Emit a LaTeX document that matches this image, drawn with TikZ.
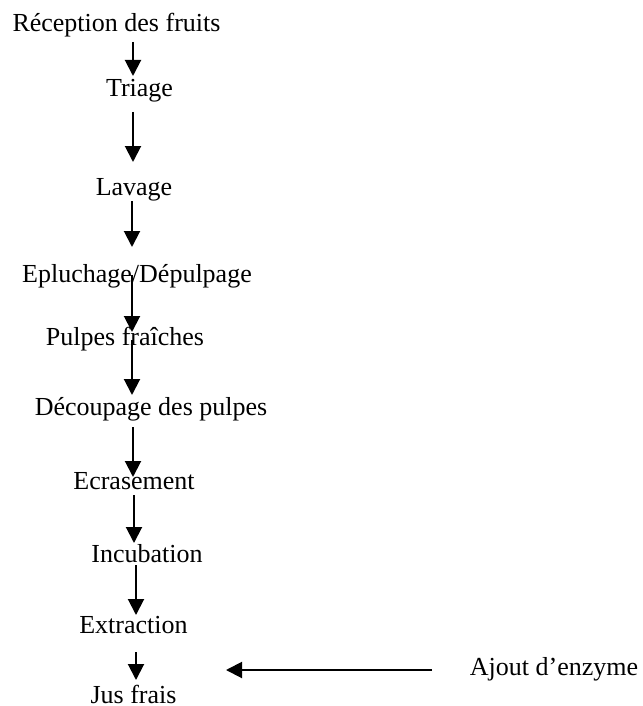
\documentclass[tikz,border=0pt]{standalone}
\usepackage{fontspec}
\setmainfont{Liberation Serif}
\usetikzlibrary{arrows.meta}
\begin{document}
\begin{tikzpicture}[x=0.5pt,y=-0.5pt,
  lbl/.style={anchor=base,inner sep=0pt,font=\fontsize{13}{15}\selectfont},
  arr/.style={line width=1pt,-{Triangle[width=8pt,length=8pt]}}]
\useasboundingbox (0,0) rectangle (642,706);
\node[lbl] (n1) at (116.5,32) {Réception des fruits};
\node[lbl] (n2) at (139.5,97) {Triage};
\node[lbl] (n3) at (134,195) {Lavage};
\node[lbl] (n4) at (137,282) {Epluchage/Dépulpage};
\node[lbl] (n5) at (125,345) {Pulpes fraîches};
\node[lbl] (n6) at (151,415) {Découpage des pulpes};
\node[lbl] (n7) at (134,489) {Ecrasement};
\node[lbl] (n8) at (147,562) {Incubation};
\node[lbl] (n9) at (133.5,633) {Extraction};
\node[lbl] (n10) at (133.5,703) {Jus frais};
\node[lbl] (ez) at (554,675) {Ajout d’enzyme};
% arrow end points
\coordinate (a1s) at (133,42);  \coordinate (a1e) at (133,76);
\coordinate (a2s) at (133,112); \coordinate (a2e) at (133,162);
\coordinate (a3s) at (132,201); \coordinate (a3e) at (132,247);
\coordinate (a4s) at (132,275); \coordinate (a4e) at (132,332);
\coordinate (a5s) at (132,340); \coordinate (a5e) at (132,395);
\coordinate (a6s) at (133,427); \coordinate (a6e) at (133,477);
\coordinate (a7s) at (134,495); \coordinate (a7e) at (134,543);
\coordinate (a8s) at (136,565); \coordinate (a8e) at (136,615);
\coordinate (a9s) at (136,652); \coordinate (a9e) at (136,680);
\coordinate (hs) at (432,670);  \coordinate (he) at (226,670);
\draw[arr] (a1s) -- (a1e);
\draw[arr] (a2s) -- (a2e);
\draw[arr] (a3s) -- (a3e);
\draw[arr] (a4s) -- (a4e);
\draw[arr] (a5s) -- (a5e);
\draw[arr] (a6s) -- (a6e);
\draw[arr] (a7s) -- (a7e);
\draw[arr] (a8s) -- (a8e);
\draw[arr] (a9s) -- (a9e);
\draw[arr] (hs) -- (he);
\end{tikzpicture}
\end{document}
